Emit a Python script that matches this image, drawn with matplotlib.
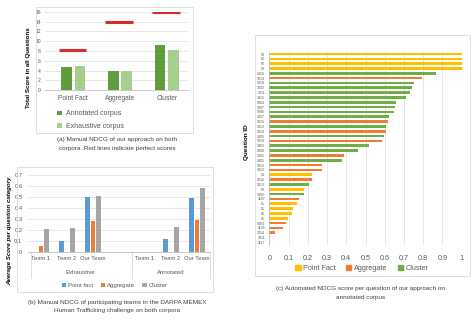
import matplotlib.pyplot as plt
import numpy as np
from matplotlib.patches import Rectangle, Patch
from matplotlib.transforms import blended_transform_factory

plt.rcParams['font.family'] = ['Liberation Sans', 'DejaVu Sans']

# (a) totals per question type
categories_a = ['Point Fact', 'Aggregate', 'Cluster']
annotated_a = [4.8, 3.95, 9.2]
exhaustive_a = [4.9, 3.95, 8.2]
perfect_a = [8.2, 14, 16]

# (b) average score per team and corpus
teams_b = ['Team 1', 'Team 2', 'Our Team']
corpora_b = ['Exhaustive', 'Annotated']
point_fact_b = [0, 0.10, 0.50, 0, 0.12, 0.49]
aggregate_b = [0.06, 0, 0.28, 0, 0, 0.29]
cluster_b = [0.21, 0.22, 0.51, 0, 0.23, 0.58]

# (c) automated NDCG per question
question_ids = ['58', '63', '56', '53', '1416', '1014', '1419', '1003', '1411', '1415',
                '1004', '1007', '1006', '1407', '1015', '1413', '1010', '1405', '1018', '1402',
                '1008', '1501', '1401', '1012', '1412', '54', '1016', '1013', '89', '1002',
                '1107', '61', '51', '82', '46', '1403', '1105', '1314', '1011', '1117']
question_types = ['P', 'P', 'P', 'P', 'C', 'A', 'C', 'C', 'C', 'C',
                  'C', 'C', 'C', 'C', 'A', 'C', 'A', 'C', 'A', 'C',
                  'C', 'A', 'C', 'A', 'A', 'P', 'A', 'C', 'P', 'C',
                  'A', 'P', 'P', 'P', 'P', 'A', 'A', 'A', 'A', 'A']
question_scores = [1.0, 1.0, 1.0, 1.0, 0.867, 0.794, 0.752, 0.743, 0.733, 0.712,
                   0.660, 0.653, 0.648, 0.624, 0.619, 0.605, 0.605, 0.594, 0.588, 0.518,
                   0.461, 0.388, 0.378, 0.276, 0.272, 0.222, 0.222, 0.208, 0.182, 0.178,
                   0.153, 0.144, 0.123, 0.118, 0.095, 0.085, 0.073, 0.031, 0, 0]

W, H = 474, 322
fig = plt.figure(figsize=(W / 100, H / 100), dpi=100)


def box(x0, y0, x1, y1):
    # pixel box (top-left origin) -> figure fraction rect
    return [x0 / W, 1 - y1 / H, (x1 - x0) / W, (y1 - y0) / H]


def ftext(x, y, s, **kw):
    fig.text(x / W, 1 - y / H, s, **kw)


def frame(x0, y0, x1, y1):
    fig.patches.append(Rectangle((x0 / W, 1 - y1 / H), (x1 - x0) / W, (y1 - y0) / H,
                                 transform=fig.transFigure, fill=False,
                                 edgecolor='#D9D9D9', lw=0.6))


def excel_style(ax):
    for s in ['top', 'right', 'left']:
        ax.spines[s].set_visible(False)
    ax.spines['bottom'].set_color('#BFBFBF')
    ax.spines['bottom'].set_linewidth(0.6)
    ax.tick_params(length=0, colors='#595959')
    ax.set_axisbelow(True)


grey_txt = '#404040'

# ---------- (a) ----------
frame(36, 7, 193, 133)
ax1 = fig.add_axes(box(45, 11.7, 188, 90.3))
excel_style(ax1)
xa = np.arange(len(categories_a))
b1 = ax1.bar(xa - 0.14, annotated_a, 0.22, color='#5E9C3C')
b2 = ax1.bar(xa + 0.14, exhaustive_a, 0.22, color='#A6CF8D')
ax1.hlines(perfect_a, xa - 0.31, xa + 0.27, color='#D92B2B', lw=2.2)
ax1.set_xlim(-0.6, 2.45)
ax1.set_ylim(0, 16)
ax1.set_yticks(range(0, 17, 2))
ax1.yaxis.grid(True, color='#E3E3E3', lw=0.6)
ax1.tick_params(axis='y', labelsize=3.6, pad=3)
ax1.set_xticks(xa)
ax1.set_xticklabels(categories_a, fontsize=4.8)
ax1.tick_params(axis='x', pad=3.5)
ftext(29, 68, 'Total Score in all Questions', rotation=90, fontsize=4.4,
      fontweight='bold', ha='center', va='center')
ax1.legend([b1, b2], ['Annotated corpus', 'Exhaustive corpus'], loc='upper left',
           bbox_to_anchor=(54 / W, 1 - 107 / H), bbox_transform=fig.transFigure,
           frameon=False, fontsize=5.0, handlelength=0.7, handleheight=0.7,
           handletextpad=0.6, labelspacing=0.8, borderpad=0, labelcolor='#595959')
ftext(117, 139.5, '(a) Manual NDCG of our approach on both', fontsize=4.6,
      ha='center', va='center', color=grey_txt)
ftext(117, 148.7, 'corpora. Red lines indicate perfect scores', fontsize=4.6,
      ha='center', va='center', color=grey_txt)

# ---------- (b) ----------
frame(17, 167, 213, 292)
ax2 = fig.add_axes(box(28, 175, 210, 252.3))
excel_style(ax2)
xb = np.array([0, 1, 2, 4, 5, 6])
h1 = ax2.bar(xb - 0.21, point_fact_b, 0.19, color='#5B9BD5')
h2 = ax2.bar(xb, aggregate_b, 0.19, color='#ED7D31')
h3 = ax2.bar(xb + 0.21, cluster_b, 0.19, color='#A5A5A5')
ax2.set_xlim(-0.5, 6.5)
ax2.set_ylim(0, 0.7)
ax2.set_yticks(np.arange(0, 0.71, 0.1))
ax2.set_yticklabels(['0', '0.1', '0.2', '0.3', '0.4', '0.5', '0.6', '0.7'])
ax2.yaxis.grid(True, color='#E3E3E3', lw=0.6)
ax2.tick_params(axis='y', labelsize=4.2, pad=4)
ax2.set_xticks(xb)
ax2.set_xticklabels(teams_b * 2, fontsize=4.2)
ax2.tick_params(axis='x', pad=3)
tr = blended_transform_factory(ax2.transData, ax2.transAxes)
for xs in [-0.4, 3.5, 6.5]:
    ax2.plot([xs, xs], [0, -0.33], transform=tr, color='#D9D9D9', lw=0.6, clip_on=False)
for xc, name in zip([1.5, 5.0], corpora_b):
    ax2.text(xc, -0.265, name, transform=tr, fontsize=4.3, ha='center', va='center',
             color='#595959')
ftext(10, 231, 'Average Score per question category', rotation=90, fontsize=4.4,
      fontweight='bold', fontstyle='italic', ha='center', va='center')
ax2.legend([h1, h2, h3], ['Point fact', 'Aggregate', 'Cluster'], loc='center',
           bbox_to_anchor=(115 / W, 1 - 285.7 / H), bbox_transform=fig.transFigure,
           ncol=3, frameon=False, fontsize=4.3, handlelength=0.7, handleheight=0.7,
           handletextpad=0.4, columnspacing=1.2, borderpad=0, labelcolor='#595959')
ftext(117, 302.7, '(b) Manual NDCG of participating teams in the DARPA MEMEX',
      fontsize=4.6, ha='center', va='center', color=grey_txt)
ftext(117, 310.5, 'Human Trafficking challenge on both corpora', fontsize=4.6,
      ha='center', va='center', color=grey_txt)

# ---------- (c) ----------
frame(255, 35, 470, 276)
ax3 = fig.add_axes(box(269.3, 51.6, 461.7, 244.8))
for s in ['top', 'right', 'bottom']:
    ax3.spines[s].set_visible(False)
ax3.spines['left'].set_color('#BFBFBF')
ax3.spines['left'].set_linewidth(0.6)
ax3.tick_params(length=0, colors='#595959')
ax3.set_axisbelow(True)
type_colors = {'P': '#FFC000', 'A': '#ED7D31', 'C': '#70AD47'}
yq = np.arange(len(question_ids))
ax3.barh(yq, question_scores, 0.55, color=[type_colors[t] for t in question_types])
ax3.set_xlim(0, 1)
ax3.set_ylim(len(question_ids) - 0.5, -0.5)
ax3.set_xticks(np.arange(0, 1.01, 0.1))
ax3.set_xticklabels(['0', '0.1', '0.2', '0.3', '0.4', '0.5', '0.6', '0.7', '0.8', '0.9', '1'])
ax3.xaxis.grid(True, color='#E3E3E3', lw=0.6)
ax3.tick_params(axis='x', labelsize=5.2, pad=7)
ax3.set_yticks(yq)
ax3.set_yticklabels(question_ids, fontsize=2.6)
ax3.tick_params(axis='y', pad=3)
ftext(247, 142, 'Question ID', rotation=90, fontsize=4.6, fontweight='bold',
      ha='center', va='center')
ax3.legend([Patch(color=type_colors[k]) for k in ['P', 'A', 'C']],
           ['Point Fact', 'Aggregate', 'Cluster'], loc='center',
           bbox_to_anchor=(362 / W, 1 - 268.5 / H), bbox_transform=fig.transFigure,
           ncol=3, frameon=False, fontsize=5.2, handlelength=0.7, handleheight=0.7,
           handletextpad=0.4, columnspacing=1.4, borderpad=0, labelcolor='#595959')
ftext(361, 288.3, '(c) Automated NDCG score per question of our approach on',
      fontsize=4.6, ha='center', va='center', color=grey_txt)
ftext(361, 297.3, 'annotated corpus', fontsize=4.6, ha='center', va='center',
      color=grey_txt)

fig.savefig('out.png', dpi=100)
